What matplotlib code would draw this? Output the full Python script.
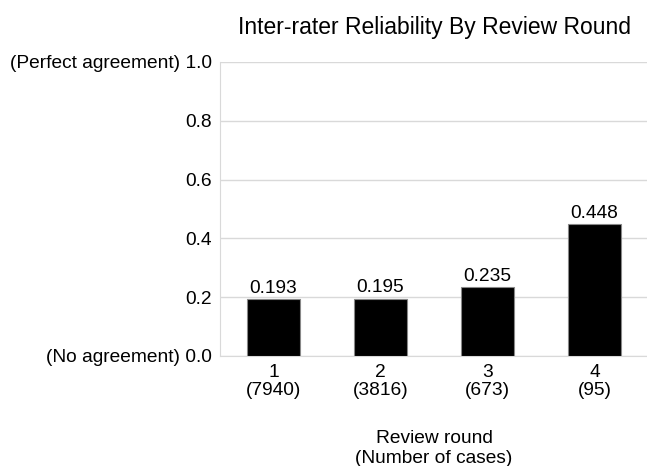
import matplotlib.pyplot as plt

plt.rcParams['font.family'] = ['Liberation Sans', 'DejaVu Sans']

rounds = ['1', '2', '3', '4']
cases = [7940, 3816, 673, 95]
kappa = [0.193, 0.195, 0.235, 0.448]
yticks = [0.0, 0.2, 0.4, 0.6, 0.8, 1.0]
ytick_labels = ['(No agreement) 0.0', '0.2', '0.4', '0.6', '0.8', '(Perfect agreement) 1.0']

fig = plt.figure(figsize=(6.47, 4.66), dpi=100)
ax = fig.add_axes([220 / 647, 1 - 356 / 466, 428 / 647, (356 - 62) / 466])

x = range(len(rounds))
bars = ax.bar(x, kappa, width=0.5, color='black', edgecolor='#888888', linewidth=0.8, zorder=3)
for b, v in zip(bars, kappa):
    ax.text(b.get_x() + b.get_width() / 2, v + 0.008, f'{v:.3f}', ha='center', va='bottom', fontsize=13.8)

ax.set_xlim(-0.5, len(rounds) - 0.5)
ax.set_ylim(0, 1.0)
ax.set_yticks(yticks)
ax.set_yticklabels(ytick_labels, fontsize=13.8)
ax.set_xticks(list(x))
ax.set_xticklabels([f'{r}\n({c})' for r, c in zip(rounds, cases)], fontsize=13.8, linespacing=1.05)
ax.tick_params(length=0, pad=6)
ax.grid(axis='y', color='#d9d9d9', linewidth=1, zorder=0)
for s in ['top', 'right']:
    ax.spines[s].set_visible(False)
for s in ['left', 'bottom']:
    ax.spines[s].set_color('#d9d9d9')

ax.set_xlabel('Review round\n(Number of cases)', fontsize=13.8, labelpad=22, linespacing=1.25)
ax.set_title('Inter-rater Reliability By Review Round', fontsize=16.5, pad=20)

fig.savefig('out.png', dpi=100)
